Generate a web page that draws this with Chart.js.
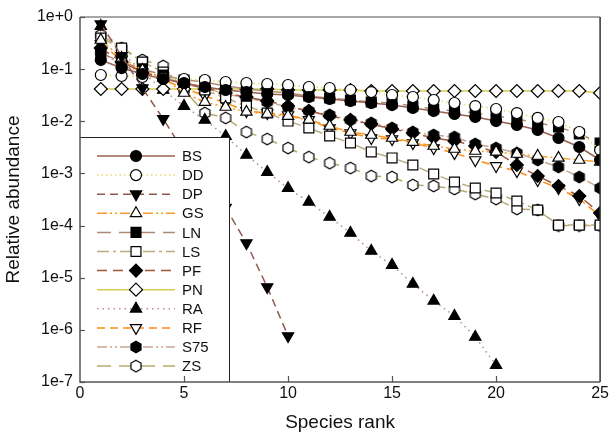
<!DOCTYPE html>
<html>
<head>
<meta charset="utf-8">
<script src="https://cdn.jsdelivr.net/npm/chart.js@4.4.1/dist/chart.umd.min.js"></script>
<style>
  html, body { margin: 0; padding: 0; background: #fff; }
  #wrap { width: 611px; height: 436px; }
</style>
</head>
<body>
<div id="wrap"><canvas id="chart" width="611" height="436"></canvas></div>
<script>
// species rank (x) and tick labels
const ranks = [1, 2, 3, 4, 5, 6, 7, 8, 9, 10, 11, 12, 13, 14, 15, 16, 17, 18, 19, 20, 21, 22, 23, 24, 25];
const xTicks = [0, 5, 10, 15, 20, 25];
const xTickLabels = ['0', '5', '10', '15', '20', '25'];
const yTicks = [1e-7, 1e-6, 1e-5, 1e-4, 1e-3, 1e-2, 1e-1, 1];
const yTickLabels = ['1e-7', '1e-6', '1e-5', '1e-4', '1e-3', '1e-2', '1e-1', '1e+0'];

// relative abundance per site
const bs  = [0.150, 0.105, 0.0807, 0.0647, 0.0542, 0.0455, 0.0398, 0.0364, 0.0334, 0.0319, 0.0292, 0.0268, 0.0245, 0.0224, 0.0205, 0.0180, 0.0158, 0.0138, 0.0121, 0.0101, 0.00849, 0.00681, 0.00478, 0.00321, 0.00181];
const dd  = [0.0772, 0.0739, 0.0707, 0.0676, 0.0647, 0.0619, 0.0567, 0.0542, 0.0519, 0.0496, 0.0455, 0.0435, 0.0398, 0.0364, 0.0319, 0.0292, 0.0256, 0.0224, 0.0196, 0.0172, 0.0144, 0.0116, 0.00969, 0.00623, 0.00281];
const dp  = [0.73, 0.179, 0.0435, 0.0111, 0.0026, 0.00071, 0.00022, 0.0000463, 0.00000663, 0.000000762];
const gs  = [0.362, 0.164, 0.0963, 0.0676, 0.0349, 0.0234, 0.0188, 0.0151, 0.0138, 0.0126, 0.0106, 0.00812, 0.00623, 0.00546, 0.00478, 0.00400, 0.00336, 0.00294, 0.00269, 0.00258, 0.00236, 0.00216, 0.00198, 0.00181, 0.00166];
const ln  = [0.204, 0.137, 0.101, 0.0772, 0.0619, 0.0567, 0.0475, 0.0416, 0.0381, 0.0349, 0.0305, 0.0280, 0.0256, 0.0234, 0.0224, 0.0196, 0.0172, 0.0158, 0.0144, 0.0126, 0.0111, 0.00927, 0.00777, 0.00570, 0.00383];
const ls  = [0.396, 0.254, 0.137, 0.0882, 0.0567, 0.0398, 0.0280, 0.0196, 0.0144, 0.0101, 0.00743, 0.00522, 0.00383, 0.00258, 0.00198, 0.00145, 0.000975, 0.000685, 0.000525, 0.000421, 0.000296, 0.000199, 0.000102, 0.000102, 0.000102];
const pf  = [0.254, 0.137, 0.0882, 0.0676, 0.0519, 0.0435, 0.0349, 0.0292, 0.0245, 0.0196, 0.0158, 0.0126, 0.0106, 0.00887, 0.00711, 0.00596, 0.00478, 0.00419, 0.00336, 0.00258, 0.00145, 0.000892, 0.000574, 0.000369, 0.000174];
const pn  = [0.0416, 0.0416, 0.0416, 0.0416, 0.0416, 0.0416, 0.0416, 0.0416, 0.0416, 0.0398, 0.0398, 0.0398, 0.0398, 0.0381, 0.0381, 0.0381, 0.0381, 0.0381, 0.0381, 0.0381, 0.0381, 0.0381, 0.0381, 0.0381, 0.0349];
const ra  = [0.67, 0.213, 0.088, 0.0398, 0.0196, 0.0106, 0.0052, 0.00226, 0.00106, 0.00052, 0.000283, 0.000146, 0.000072, 0.0000325, 0.0000175, 0.0000076, 0.0000036, 0.00000184, 0.00000073, 0.00000021];
const rf  = [0.303, 0.150, 0.0882, 0.0619, 0.0435, 0.0305, 0.0224, 0.0158, 0.0144, 0.0132, 0.0106, 0.00743, 0.00596, 0.00478, 0.00457, 0.00383, 0.00307, 0.00246, 0.00181, 0.00139, 0.00111, 0.000748, 0.000525, 0.000323, 0.000153];
const s75 = [0.213, 0.120, 0.0882, 0.0707, 0.0542, 0.0435, 0.0334, 0.0280, 0.0234, 0.0188, 0.0158, 0.0132, 0.0106, 0.00927, 0.00743, 0.00623, 0.00546, 0.00499, 0.00367, 0.00307, 0.00246, 0.00181, 0.00133, 0.000854, 0.000525];
const zs  = [0.452, 0.254, 0.150, 0.115, 0.0398, 0.0144, 0.0116, 0.00623, 0.00457, 0.00307, 0.00206, 0.00158, 0.00127, 0.000892, 0.000854, 0.000600, 0.000574, 0.000503, 0.000403, 0.000323, 0.000208, 0.000199, 0.0001, 0.0001, 0.0001];

function hexMarker(fill) {
  const c = document.createElement('canvas');
  c.width = 14; c.height = 14;
  const g = c.getContext('2d');
  g.beginPath();
  for (let i = 0; i < 6; i++) {
    const a = Math.PI / 3 * i - Math.PI / 2;
    g.lineTo(7 + 5.8 * Math.cos(a), 7 + 5.8 * Math.sin(a));
  }
  g.closePath();
  g.fillStyle = fill; g.fill();
  g.lineWidth = 1.2; g.strokeStyle = '#000'; g.stroke();
  return c;
}

const series = [
  { name: 'BS',  data: bs,  color: '#9a6050', dash: [],                  style: 'circle',   fill: '#000', r: 5.5 },
  { name: 'DD',  data: dd,  color: '#e4da70', dash: [1.5, 3],            style: 'circle',   fill: '#fff', r: 5.5 },
  { name: 'DP',  data: dp,  color: '#8c5a4b', dash: [8, 5],              style: 'triangle', fill: '#000', r: 6.5, rot: 180 },
  { name: 'GS',  data: gs,  color: '#f39c2e', dash: [10, 3, 2, 3, 2, 3], style: 'triangle', fill: '#fff', r: 6.5 },
  { name: 'LN',  data: ln,  color: '#ae8a74', dash: [14, 8],             style: 'rect',     fill: '#000', r: 7 },
  { name: 'LS',  data: ls,  color: '#b9ad82', dash: [12, 4, 3, 4],       style: 'rect',     fill: '#fff', r: 7 },
  { name: 'PF',  data: pf,  color: '#a4583e', dash: [10, 6],             style: 'rectRot',  fill: '#000', r: 6.5 },
  { name: 'PN',  data: pn,  color: '#d6cd50', dash: [],                  style: 'rectRot',  fill: '#fff', r: 6.5 },
  { name: 'RA',  data: ra,  color: '#b89088', dash: [1.5, 4],            style: 'triangle', fill: '#000', r: 6.5 },
  { name: 'RF',  data: rf,  color: '#ff8c10', dash: [8, 5],              style: 'triangle', fill: '#fff', r: 6.5, rot: 180 },
  { name: 'S75', data: s75, color: '#c6a892', dash: [10, 3, 2, 3, 2, 3], style: hexMarker('#000'), fill: '#000', r: 6 },
  { name: 'ZS',  data: zs,  color: '#b7aa70', dash: [14, 8],             style: hexMarker('#fff'), fill: '#fff', r: 6 }
];

const datasets = series.map(s => ({
  label: s.name,
  data: s.data.map((v, i) => ({ x: ranks[i], y: v })),
  borderColor: s.color,
  borderDash: s.dash,
  borderWidth: 1.5,
  pointStyle: s.style,
  pointRotation: s.rot || 0,
  pointRadius: s.r,
  pointHoverRadius: s.r,
  pointBackgroundColor: s.fill,
  pointBorderColor: '#000',
  pointBorderWidth: 1.2,
  fill: false,
  tension: 0
}));

function drawMarker(ctx, ds, x, y) {
  const st = ds.pointStyle, r = ds.pointRadius;
  ctx.save();
  ctx.translate(x, y);
  if (st instanceof HTMLCanvasElement) {
    ctx.drawImage(st, -st.width / 2, -st.height / 2);
    ctx.restore();
    return;
  }
  ctx.rotate((ds.pointRotation || 0) * Math.PI / 180);
  ctx.beginPath();
  if (st === 'circle') {
    ctx.arc(0, 0, r, 0, Math.PI * 2);
  } else if (st === 'triangle') {
    for (let k = 0; k < 3; k++) {
      const a = k * 2 * Math.PI / 3;
      ctx.lineTo(Math.sin(a) * r, -Math.cos(a) * r);
    }
  } else if (st === 'rect') {
    const h = r * Math.SQRT1_2;
    ctx.rect(-h, -h, 2 * h, 2 * h);
  } else if (st === 'rectRot') {
    ctx.moveTo(0, -r); ctx.lineTo(r, 0); ctx.lineTo(0, r); ctx.lineTo(-r, 0);
  }
  ctx.closePath();
  ctx.fillStyle = ds.pointBackgroundColor;
  ctx.fill();
  ctx.lineWidth = 1.2; ctx.strokeStyle = '#000';
  ctx.stroke();
  ctx.restore();
}

const FONT = 'Arial, "Liberation Sans", sans-serif';

const framePlugin = {
  id: 'frame',
  afterDatasetsDraw(chart) {
    const { ctx, chartArea: a } = chart;
    // legend box sits inside the lower-left of the plot
    const box = { left: a.left, top: a.top + 120, right: a.left + 149, bottom: a.bottom };
    ctx.save();
    ctx.fillStyle = '#fff';
    ctx.fillRect(box.left, box.top, box.right - box.left, box.bottom - box.top);
    ctx.strokeStyle = '#222'; ctx.lineWidth = 1;
    ctx.beginPath();
    ctx.moveTo(box.left, box.top + 0.5); ctx.lineTo(box.right + 0.5, box.top + 0.5); ctx.lineTo(box.right + 0.5, box.bottom);
    ctx.stroke();
    chart.data.datasets.forEach((ds, i) => {
      const y = box.top + 19 + i * 19.1;
      ctx.setLineDash(ds.borderDash);
      ctx.strokeStyle = ds.borderColor; ctx.lineWidth = ds.borderWidth;
      ctx.beginPath(); ctx.moveTo(box.left + 17, y); ctx.lineTo(box.left + 95, y); ctx.stroke();
      ctx.setLineDash([]);
      drawMarker(ctx, ds, box.left + 56, y);
      ctx.fillStyle = '#111'; ctx.font = '15px ' + FONT;
      ctx.textBaseline = 'middle'; ctx.textAlign = 'left';
      ctx.fillText(ds.label, box.left + 102, y + 1);
    });
    ctx.restore();
  },
  afterDraw(chart) {
    const { ctx, chartArea: a, scales } = chart;
    ctx.save();
    ctx.lineWidth = 1.5;
    ctx.strokeStyle = '#8a8a8a';
    ctx.beginPath(); ctx.moveTo(a.left, a.top); ctx.lineTo(a.right, a.top); ctx.stroke();
    ctx.strokeStyle = '#333';
    ctx.beginPath(); ctx.moveTo(a.right, a.top); ctx.lineTo(a.right, a.bottom); ctx.stroke();
    ctx.strokeStyle = '#555';
    ctx.beginPath(); ctx.moveTo(a.left, a.top); ctx.lineTo(a.left, a.bottom); ctx.lineTo(a.right, a.bottom); ctx.stroke();
    ctx.lineWidth = 1.2;
    yTicks.forEach(v => {
      const y = Math.round(scales.y.getPixelForValue(v)) + 0.5;
      ctx.beginPath(); ctx.moveTo(a.left, y); ctx.lineTo(a.left + 5, y); ctx.stroke();
    });
    xTicks.slice(1, -1).forEach(v => {
      const x = Math.round(scales.x.getPixelForValue(v)) + 0.5;
      ctx.beginPath(); ctx.moveTo(x, a.bottom); ctx.lineTo(x, a.bottom - 6); ctx.stroke();
    });
    ctx.restore();
  }
};

new Chart(document.getElementById('chart'), {
  type: 'line',
  data: { datasets },
  options: {
    responsive: false,
    animation: false,
    devicePixelRatio: 1,
    layout: { padding: { left: 0, right: 8, top: 17, bottom: 0 } },
    plugins: { legend: { display: false }, tooltip: { enabled: false } },
    scales: {
      x: {
        type: 'linear', min: 0, max: 25,
        afterBuildTicks: s => { s.ticks = xTicks.map(v => ({ value: v })); },
        afterFit: s => { s.height = 54; },
        ticks: { callback: (v, i) => xTickLabels[i], color: '#111', font: { family: FONT, size: 16 }, padding: 2, maxRotation: 0 },
        grid: { display: false, drawTicks: false },
        border: { display: false },
        title: { display: true, text: 'Species rank', color: '#111', font: { family: FONT, size: 19 }, padding: { top: 0, bottom: 2 } }
      },
      y: {
        type: 'logarithmic', min: 1e-7, max: 1,
        afterBuildTicks: s => { s.ticks = yTicks.map(v => ({ value: v })); },
        afterFit: s => { s.width = 80; },
        ticks: { callback: (v, i) => yTickLabels[i], color: '#111', font: { family: FONT, size: 16 }, padding: 7 },
        grid: { display: false, drawTicks: false },
        border: { display: false },
        title: { display: true, text: 'Relative abundance', color: '#111', font: { family: FONT, size: 19 }, padding: { top: 2, bottom: 0 } }
      }
    }
  },
  plugins: [framePlugin]
});
</script>
</body>
</html>
